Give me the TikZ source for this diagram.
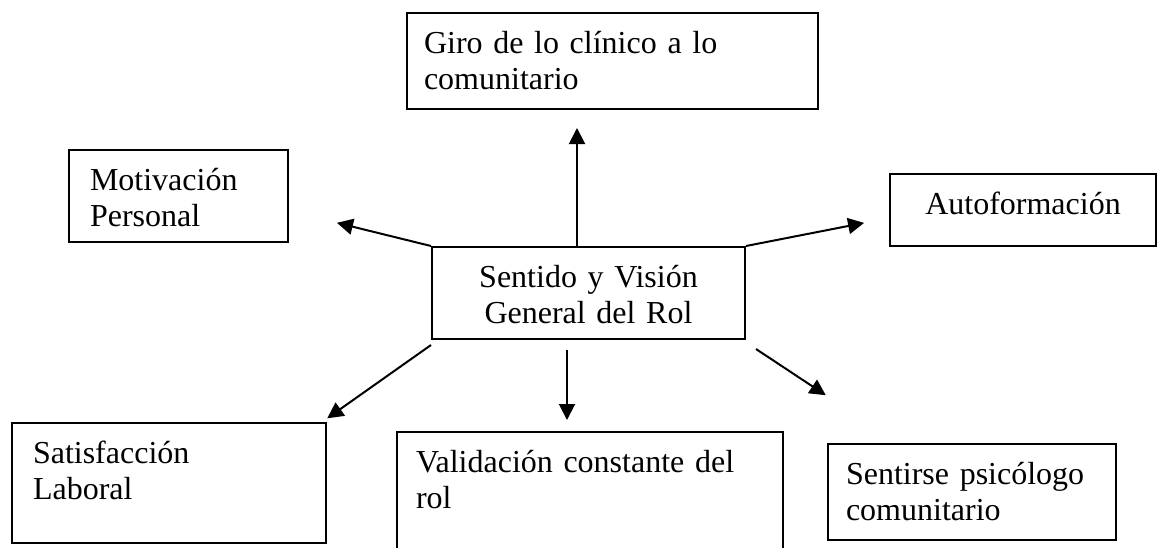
\documentclass[tikz,border=0pt]{standalone}
\usepackage{fontspec}
\setmainfont{Liberation Serif}
\usetikzlibrary{arrows.meta}

\tikzset{
  tbox/.style={draw, line width=1pt, anchor=north west, inner ysep=8.5pt,
    text height=11.5pt, align=left, font=\fontsize{16}{18}\selectfont},
  arr/.style={line width=1pt, -{Triangle[length=8pt,width=8pt]}}
}

\begin{document}
\begin{tikzpicture}[x=0.5pt,y=-0.5pt]
        \path[use as bounding box, clip] (0,0) rectangle (1161,547);
        \node[tbox, inner xsep=8.5pt, text width=188.5pt, text depth=19.5pt] (giro) at (406,12) {Giro de lo clínico a lo\\comunitario};
        \node[tbox, inner xsep=10.5pt, text width=88.5pt, text depth=17.5pt] (motiv) at (68,149) {Motivación\\Personal};
        \node[tbox, inner xsep=5pt, text width=123pt, text depth=7.5pt, align=center] (auto) at (889,173) {Autoformación};
        \node[tbox, inner xsep=5pt, text width=146.5pt, text depth=17.5pt, align=center] (mid) at (431,246) {Sentido y Visión\\General del Rol};
        \node[tbox, inner xsep=10.5pt, text width=136pt, text depth=31.5pt] (sat) at (11,422) {Satisfacción\\Laboral};
        \node[tbox, inner xsep=9.5pt, text width=174pt, text depth=46.5pt] (val) at (396,431) {Validación constante del\\rol};
        \node[tbox, inner xsep=9pt, text width=126pt, text depth=19.5pt] (sent) at (827,443) {Sentirse psicólogo\\comunitario};
        \draw[arr, shorten >=9pt] ([xshift=-5.75pt]mid.north) -- ([xshift=-5.75pt]mid.north |- giro.south);
        \draw[arr, shorten >=24.7pt] (mid.north west) -- ([yshift=-7.5pt]motiv.east);
        \draw[arr, shorten >=12.7pt] (mid.north east) -- ([yshift=-4pt]auto.west);
        \draw[arr, shorten >=3.2pt] ([yshift=-2.5pt]mid.south west) -- ([xshift=-2.5pt]sat.north east);
        \draw[arr, shorten >=5.5pt] ([xshift=-10.75pt,yshift=-5pt]mid.south) -- ([xshift=-10.75pt]mid.south |- val.north);
        \draw[arr, shorten >=43.3pt] ([xshift=5pt,yshift=-4.5pt]mid.south east) -- ([xshift=35.5pt]sent.north west);
      \end{tikzpicture}
\end{document}
